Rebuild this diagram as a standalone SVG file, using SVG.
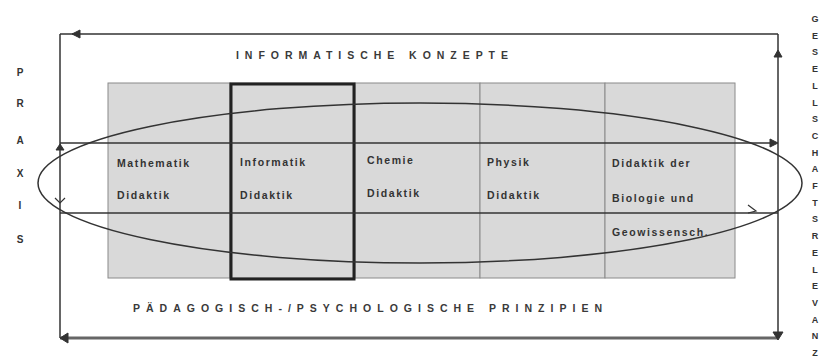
<svg xmlns="http://www.w3.org/2000/svg" width="820" height="359" viewBox="0 0 820 359">
  <style>
    .cell { fill: #d9d9d9; stroke: #8a8a8a; stroke-width: 1; }
    .lbl { font-family: "Liberation Sans", Arial, sans-serif; font-weight: bold; font-size: 10.5px; fill: #333; letter-spacing: 1.6px; }
    .cap { font-family: "Liberation Sans", Arial, sans-serif; font-weight: bold; font-size: 10.5px; fill: #3a3a3a; }
    .side { font-family: "Liberation Sans", Arial, sans-serif; font-weight: bold; font-size: 10px; fill: #333; text-anchor: middle; }
    .ln { stroke: #333; stroke-width: 1.5; fill: none; }
    .ah { fill: #333; stroke: #333; stroke-width: 1; }
    .oh { fill: none; stroke: #333; stroke-width: 1.2; }
  </style>
  <rect width="820" height="359" fill="#fff"/>

  <g id="table">
    <rect class="cell" x="108" y="83" width="122" height="195"/>
    <rect class="cell" x="230" y="83" width="125" height="195"/>
    <rect class="cell" x="355" y="83" width="125" height="195"/>
    <rect class="cell" x="480" y="83" width="125" height="195"/>
    <rect class="cell" x="605" y="83" width="130" height="195"/>
  </g>

  <g id="node-mathematik">
    <text class="lbl" x="117" y="167">Mathematik</text>
    <text class="lbl" x="117" y="199">Didaktik</text>
  </g>
  <g id="node-informatik">
    <rect x="231" y="84" width="123" height="195" fill="none" stroke="#222" stroke-width="3"/>
    <text class="lbl" x="240" y="166">Informatik</text>
    <text class="lbl" x="240" y="199">Didaktik</text>
  </g>
  <g id="node-chemie">
    <text class="lbl" x="367" y="164">Chemie</text>
    <text class="lbl" x="367" y="197">Didaktik</text>
  </g>
  <g id="node-physik">
    <text class="lbl" x="487" y="166">Physik</text>
    <text class="lbl" x="487" y="199">Didaktik</text>
  </g>
  <g id="node-biologie">
    <text class="lbl" x="612" y="167">Didaktik der</text>
    <text class="lbl" x="612" y="202">Biologie und</text>
    <text class="lbl" x="612" y="236">Geowissensch.</text>
  </g>

  <g id="label-informatische">
    <text class="cap" x="236" y="59" textLength="272" lengthAdjust="spacing">INFORMATISCHE KONZEPTE</text>
  </g>
  <g id="label-paedagogisch">
    <text class="cap" x="133" y="312" textLength="469" lengthAdjust="spacing">PÄDAGOGISCH-/PSYCHOLOGISCHE PRINZIPIEN</text>
  </g>
  <g id="label-praxis">
    <text class="side" x="20" y="76">P</text>
    <text class="side" x="20" y="107">R</text>
    <text class="side" x="20" y="144">A</text>
    <text class="side" x="20" y="177">X</text>
    <text class="side" x="20" y="209">I</text>
    <text class="side" x="20" y="243">S</text>
  </g>
  <g id="label-gesellschaft">
    <text class="side" style="font-size:9px">
      <tspan x="815" y="22">G</tspan><tspan x="815" y="38.7">E</tspan><tspan x="815" y="55.4">S</tspan><tspan x="815" y="72.1">E</tspan><tspan x="815" y="88.8">L</tspan><tspan x="815" y="105.5">L</tspan><tspan x="815" y="122.2">S</tspan><tspan x="815" y="138.9">C</tspan><tspan x="815" y="155.6">H</tspan><tspan x="815" y="172.3">A</tspan><tspan x="815" y="189">F</tspan><tspan x="815" y="205.7">T</tspan><tspan x="815" y="222.4">S</tspan><tspan x="815" y="239.1">R</tspan><tspan x="815" y="255.8">E</tspan><tspan x="815" y="272.5">L</tspan><tspan x="815" y="289.2">E</tspan><tspan x="815" y="305.9">V</tspan><tspan x="815" y="322.6">A</tspan><tspan x="815" y="339.3">N</tspan><tspan x="815" y="356">Z</tspan>
    </text>
  </g>

  <g id="connectors">
    <line class="ln" x1="60" y1="34" x2="778" y2="34"/>
    <line class="ln" x1="60" y1="34" x2="60" y2="338"/>
    <line class="ln" x1="778" y1="34" x2="778" y2="336"/>
    <line x1="60" y1="338" x2="778" y2="338" stroke="#666" stroke-width="3"/>
    <line class="ln" x1="60" y1="143" x2="776" y2="143"/>
    <line class="ln" x1="60" y1="213" x2="778" y2="213"/>
    <ellipse class="ln" cx="420" cy="183" rx="382" ry="80"/>
    <polygon class="ah" points="72,34 80,30 80,38"/>
    <polygon class="ah" points="778,50 774,57 782,57"/>
    <polygon class="ah" points="778,143 770,139 770,147"/>
    <polygon class="ah" points="60,144 56,150 64,150"/>
    <polyline class="oh" points="55,198 60,203 65,198"/>
    <polyline class="oh" points="748,205 756,211 748,213"/>
    <polygon class="ah" points="778,340 773,332 783,332"/>
    <polygon class="ah" points="60,338 68,333 68,343"/>
  </g>
</svg>
